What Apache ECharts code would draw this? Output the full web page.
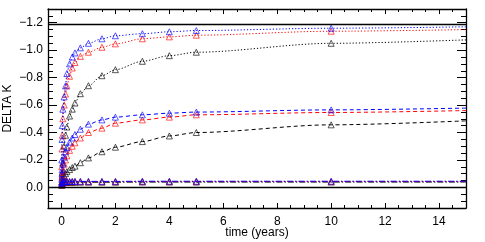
<!DOCTYPE html>
<html><head><meta charset="utf-8">
<script src="https://cdn.jsdelivr.net/npm/echarts@6/dist/echarts.min.js"></script>
<style>html,body{margin:0;padding:0;background:#fff}#c{width:485px;height:242px}</style>
</head><body><div id="c"></div>
<script>
const times = [0, 0.01, 0.02, 0.03, 0.05, 0.1, 0.15, 0.2, 0.3, 0.4, 0.5, 0.7, 1, 1.5, 2, 3, 4, 5, 10, 15];
const blueDotted  = [0,-0.2,-0.35,-0.45,-0.57,-0.66,-0.74,-0.83,-0.9,-0.95,-0.98,-1.017,-1.05,-1.083,-1.105,-1.12,-1.134,-1.143,-1.16,-1.17];
const redDotted   = [0,-0.15,-0.28,-0.38,-0.5,-0.6,-0.68,-0.74,-0.81,-0.87,-0.91,-0.955,-0.985,-1.021,-1.046,-1.083,-1.097,-1.109,-1.138,-1.15];
const blackDotted = [0,-0.04,-0.08,-0.11,-0.18,-0.3,-0.38,-0.44,-0.52,-0.57,-0.615,-0.683,-0.741,-0.814,-0.858,-0.919,-0.96,-0.985,-1.05,-1.075];
const blueDashed  = [0,-0.06,-0.1,-0.13,-0.17,-0.22,-0.26,-0.29,-0.33,-0.36,-0.385,-0.424,-0.461,-0.492,-0.512,-0.529,-0.541,-0.549,-0.565,-0.578];
const redDashed   = [0,-0.04,-0.07,-0.09,-0.12,-0.17,-0.2,-0.23,-0.27,-0.3,-0.325,-0.36,-0.4,-0.432,-0.468,-0.492,-0.512,-0.529,-0.546,-0.56];
const blackDashed = [0,-0.02,-0.035,-0.045,-0.06,-0.085,-0.1,-0.115,-0.13,-0.145,-0.155,-0.18,-0.215,-0.26,-0.293,-0.334,-0.375,-0.4,-0.456,-0.485];
const blueDashDot = [0,-0.02,-0.03,-0.036,-0.04,-0.042,-0.043,-0.043,-0.043,-0.044,-0.044,-0.044,-0.044,-0.044,-0.044,-0.045,-0.045,-0.045,-0.045,-0.045];
const redDashDot  = [0,-0.018,-0.028,-0.034,-0.038,-0.04,-0.041,-0.041,-0.042,-0.042,-0.042,-0.042,-0.042,-0.042,-0.042,-0.043,-0.043,-0.043,-0.043,-0.043];
const blackDashDot= [0,-0.015,-0.025,-0.03,-0.034,-0.036,-0.037,-0.037,-0.038,-0.038,-0.038,-0.038,-0.038,-0.038,-0.038,-0.039,-0.039,-0.039,-0.039,-0.039];
const refLines = [0, -1.19];
const xTickLabels = [0, 2, 4, 6, 8, 10, 12, 14];
const yTickLabels = [-1.2, -1.0, -0.8, -0.6, -0.4, -0.2, 0.0];

const xMinor = []; for (let i = 0; i <= 30; i++) xMinor.push(-0.5 + i * 0.5);
const yMinor = []; for (let i = 0; i <= 29; i++) yMinor.push(+(-1.3 + i * 0.05).toFixed(2));

const FONT = 'Liberation Sans';
const dot = [1.2, 2];
const dash = [4, 3];
const dashDot = [6, 2, 1.5, 2];

function mk(name, vals, color, type, z) {
  return {
    name, type: 'line', xAxisIndex: 0, yAxisIndex: 0,
    data: times.map((t, i) => [t, vals[i]]),
    smooth: 0.3, smoothMonotone: 'x',
    symbol: 'triangle',
    symbolSize: (v) => (v[0] === 0 || v[0] >= 15) ? 0 : 6,
    showAllSymbol: true,
    lineStyle: { color, width: 1, type },
    itemStyle: { color: 'rgba(0,0,0,0)', borderColor: color, borderWidth: 1, opacity: 0.65 },
    z, animation: false
  };
}

const xBase = { type: 'value', min: -0.5, max: 15, splitLine: { show: false }, offset: 0 };
const yBase = { type: 'value', min: -1.3, max: 0.15, inverse: true, splitLine: { show: false }, offset: 0 };
const axLine = { show: true, onZero: false, lineStyle: { color: '#000', width: 1.3 } };
const noLine = { show: false, onZero: false };

const option = {
  animation: false,
  grid: { left: 48, right: 19, top: 9, bottom: 34, containLabel: false, outerBoundsMode: 'none' },
  xAxis: [
    Object.assign({}, xBase, { position: 'bottom', axisLine: axLine,
      name: 'time (years)', nameLocation: 'middle', nameGap: 19, nameMoveOverlap: false,
      nameTextStyle: { fontFamily: FONT, fontSize: 12, color: '#000' },
      axisLabel: { customValues: xTickLabels, fontFamily: FONT, fontSize: 12, color: '#000', margin: 8 },
      axisTick: { customValues: xTickLabels, inside: true, length: 5, lineStyle: { color: '#000' } } }),
    Object.assign({}, xBase, { position: 'bottom', axisLine: noLine, axisLabel: { show: false },
      axisTick: { customValues: xMinor, inside: true, length: 3, lineStyle: { color: '#000' } } }),
    Object.assign({}, xBase, { position: 'top', axisLine: axLine, axisLabel: { show: false },
      axisTick: { customValues: xTickLabels, inside: true, length: 5, lineStyle: { color: '#000' } } }),
    Object.assign({}, xBase, { position: 'top', axisLine: noLine, axisLabel: { show: false },
      axisTick: { customValues: xMinor, inside: true, length: 3, lineStyle: { color: '#000' } } })
  ],
  yAxis: [
    Object.assign({}, yBase, { position: 'left', axisLine: axLine,
      name: 'DELTA K', nameLocation: 'middle', nameGap: 34, nameRotate: 90, nameMoveOverlap: false,
      nameTextStyle: { fontFamily: FONT, fontSize: 12, color: '#000' },
      axisLabel: { customValues: yTickLabels, fontFamily: FONT, fontSize: 12, color: '#000', margin: 5,
        formatter: v => (v < -0.001 ? '\u2212' : '') + Math.abs(v).toFixed(1) },
      axisTick: { customValues: yTickLabels, inside: true, length: 9, lineStyle: { color: '#000' } } }),
    Object.assign({}, yBase, { position: 'left', axisLine: noLine, axisLabel: { show: false },
      axisTick: { customValues: yMinor, inside: true, length: 5, lineStyle: { color: '#000' } } }),
    Object.assign({}, yBase, { position: 'right', axisLine: axLine, axisLabel: { show: false },
      axisTick: { customValues: yTickLabels, inside: true, length: 9, lineStyle: { color: '#000' } } }),
    Object.assign({}, yBase, { position: 'right', axisLine: noLine, axisLabel: { show: false },
      axisTick: { customValues: yMinor, inside: true, length: 5, lineStyle: { color: '#000' } } })
  ],
  series: [
    {
      type: 'line', data: [], xAxisIndex: 0, yAxisIndex: 0,
      markLine: { silent: true, symbol: 'none', label: { show: false },
        lineStyle: { color: '#000', width: 1.3, type: 'solid' },
        data: refLines.map(v => ({ yAxis: v })) }
    },
    mk('bk1', blackDotted, '#000000', dot, 2),
    mk('bk2', blackDashed, '#000000', dash, 2),
    mk('bk3', blackDashDot, '#000000', dashDot, 2),
    mk('r1', redDotted, '#ff0000', dot, 3),
    mk('r2', redDashed, '#ff0000', dash, 3),
    mk('r3', redDashDot, '#ff0000', dashDot, 3),
    mk('b1', blueDotted, '#0000ff', dot, 4),
    mk('b2', blueDashed, '#0000ff', dash, 4),
    mk('b3', blueDashDot, '#0000ff', dashDot, 4)
  ]
};
const chart = echarts.init(document.getElementById('c'), null, { renderer: 'canvas' });
chart.setOption(option);
</script></body></html>
